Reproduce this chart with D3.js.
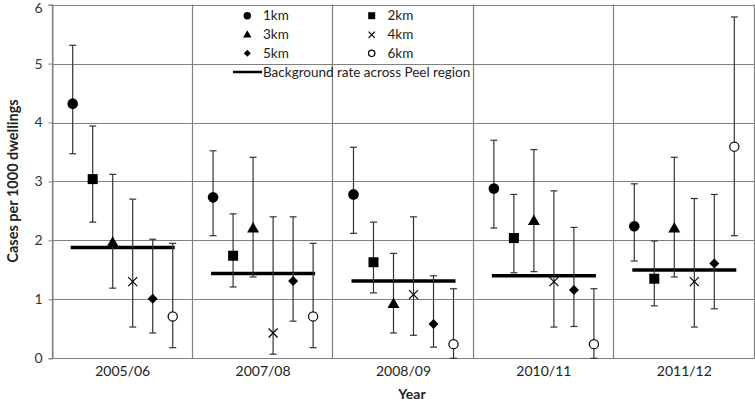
<!DOCTYPE html>
<html><head><meta charset="utf-8">
<script src="https://cdn.jsdelivr.net/npm/d3@7/dist/d3.min.js"></script>
<style>body{margin:0;background:#fff}svg{display:block}text{font-family:Lato,"Open Sans",sans-serif}</style>
</head><body><svg id="c" width="755" height="401"></svg>
<script>
const years = ["2005/06","2007/08","2008/09","2010/11","2011/12"];
const seriesNames = ["1km","2km","3km","4km","5km","6km"];
const yTicks = [0,1,2,3,4,5,6];
// values [year][series]
const values = [
  [4.32,3.04,1.96,1.30,1.01,0.71],
  [2.73,1.74,2.20,0.43,1.31,0.71],
  [2.78,1.63,0.92,1.08,0.58,0.24],
  [2.88,2.04,2.33,1.30,1.16,0.24],
  [2.24,1.35,2.20,1.30,1.61,3.59]
];
const lower = [
  [3.47,2.31,1.19,0.53,0.43,0.18],
  [2.08,1.21,1.38,0.07,0.63,0.18],
  [2.12,1.11,0.43,0.39,0.19,0.00],
  [2.21,1.45,1.47,0.53,0.54,0.00],
  [1.65,0.89,1.38,0.53,0.84,2.08]
];
const upper = [
  [5.31,3.94,3.12,2.70,2.02,1.95],
  [3.52,2.45,3.41,2.40,2.40,1.95],
  [3.58,2.31,1.78,2.40,1.40,1.18],
  [3.70,2.78,3.54,2.84,2.22,1.18],
  [2.96,1.99,3.41,2.71,2.78,5.79]
];
const background = [1.88,1.44,1.31,1.40,1.50];

const svg = d3.select("#c");
const L=52.5, R=754.5, T=4.6, B=358.3;
const x = d3.scaleBand().domain(years).range([L,R]).padding(0);
const y = d3.scaleLinear().domain([0,6]).range([B,T]);
const bw = x.bandwidth();
const off = i => (i-2.5)*bw*0.1425;
const cx = (yr,i) => x(yr)+bw/2+off(i);

// grid
const g = svg.append("g");
g.selectAll(".hg").data(yTicks).join("line")
  .attr("x1",L).attr("x2",R).attr("y1",d=>Math.round(y(d))+0.5).attr("y2",d=>Math.round(y(d))+0.5)
  .attr("stroke","#808080").attr("stroke-width",1.2);
const bounds = years.map(d=>x(d)).concat([R]);
g.selectAll(".vg").data(bounds).join("line")
  .attr("x1",d=>Math.round(d)-0.5).attr("x2",d=>Math.round(d)-0.5).attr("y1",T).attr("y2",B)
  .attr("stroke","#808080").attr("stroke-width",1.2);

// y axis
const ya = svg.append("g").attr("transform",`translate(${Math.round(L)-0.5},0)`)
  .call(d3.axisLeft(y).tickValues(yTicks).tickSize(4).tickFormat(d3.format("d")));
ya.select(".domain").attr("stroke","#808080");
ya.selectAll(".tick line").attr("stroke","#808080");
ya.selectAll(".tick text").attr("font-size","14px").attr("fill","#333").attr("font-family","Lato").attr("x",-10)
  .attr("y",d=>d===6?3:0);

// x labels
svg.append("g").selectAll("text").data(years).join("text")
  .attr("x",d=>x(d)+bw/2).attr("y",376).attr("text-anchor","middle")
  .attr("font-size","14px").attr("fill","#222").text(d=>d);

svg.append("text").attr("x",412).attr("y",399).attr("text-anchor","middle")
  .attr("font-size","14px").attr("font-weight","bold").attr("fill","#222").text("Year");
svg.append("text").attr("transform","translate(18,181) rotate(-90)").attr("text-anchor","middle")
  .attr("font-size","14.5px").attr("font-weight","bold").attr("fill","#222").text("Cases per 1000 dwellings");

// background lines
svg.append("g").selectAll("line").data(years).join("line")
  .attr("x1",(d)=>cx(d,0)-2).attr("x2",(d)=>cx(d,5)+2)
  .attr("y1",(d,i)=>y(background[i])).attr("y2",(d,i)=>y(background[i]))
  .attr("stroke","#000").attr("stroke-width",3.5);

// error bars
const pts = [];
years.forEach((yr,j)=>seriesNames.forEach((s,i)=>pts.push({yr,i,v:values[j][i],lo:lower[j][i],hi:upper[j][i]})));
const eb = svg.append("g").attr("stroke","#333").attr("stroke-width",1.2);
eb.selectAll(".v").data(pts).join("line")
  .attr("x1",d=>cx(d.yr,d.i)).attr("x2",d=>cx(d.yr,d.i)).attr("y1",d=>y(d.lo)).attr("y2",d=>y(d.hi));
eb.selectAll(".c1").data(pts).join("line")
  .attr("x1",d=>cx(d.yr,d.i)-3.5).attr("x2",d=>cx(d.yr,d.i)+3.5).attr("y1",d=>y(d.hi)).attr("y2",d=>y(d.hi));
eb.selectAll(".c2").data(pts).join("line")
  .attr("x1",d=>cx(d.yr,d.i)-3.5).attr("x2",d=>cx(d.yr,d.i)+3.5).attr("y1",d=>y(d.lo)).attr("y2",d=>y(d.lo));

// markers
function marker(sel, i, s){
  if(i===0) sel.append("circle").attr("r",5.3*s).attr("fill","#000");
  else if(i===1) sel.append("rect").attr("x",-5*s).attr("y",-5*s).attr("width",10*s).attr("height",10*s).attr("fill","#000");
  else if(i===2) sel.append("path").attr("d",`M0,${-6.5*s}L${6*s},${4*s}L${-6*s},${4*s}Z`).attr("fill","#000");
  else if(i===3) sel.append("path").attr("d",`M${-4.5*s},${-4.5*s}L${4.5*s},${4.5*s}M${4.5*s},${-4.5*s}L${-4.5*s},${4.5*s}`).attr("stroke","#000").attr("stroke-width",1.2).attr("fill","none");
  else if(i===4) sel.append("path").attr("d",`M0,${-5*s}L${5*s},0L0,${5*s}L${-5*s},0Z`).attr("fill","#000");
  else sel.append("circle").attr("r",4.6*s).attr("fill","#fff").attr("stroke","#000").attr("stroke-width",1.2);
}
const mk = svg.append("g");
pts.forEach(d=>{
  const gg = mk.append("g").attr("transform",`translate(${cx(d.yr,d.i)},${y(d.v)})`);
  marker(gg,d.i,1);
});

// legend
const leg = svg.append("g");
const legCols = [[247.3,263],[371.7,387.5]];
const legRows = [15.7,34.7,53.3];
seriesNames.forEach((s,i)=>{
  const col = i%2, row = Math.floor(i/2);
  const gg = leg.append("g").attr("transform",`translate(${legCols[col][0]},${legRows[row]})`);
  marker(gg,i,0.7);
  leg.append("text").attr("x",legCols[col][1]).attr("y",legRows[row]).attr("dy","0.35em")
    .attr("font-size","13.5px").attr("fill","#222").text(s);
});
leg.append("line").attr("x1",233).attr("x2",262).attr("y1",72).attr("y2",72).attr("stroke","#000").attr("stroke-width",2.5);
leg.append("text").attr("x",263).attr("y",72).attr("dy","0.35em").attr("font-size","13.5px").attr("fill","#222")
  .text("Background rate across Peel region");
</script></body></html>
